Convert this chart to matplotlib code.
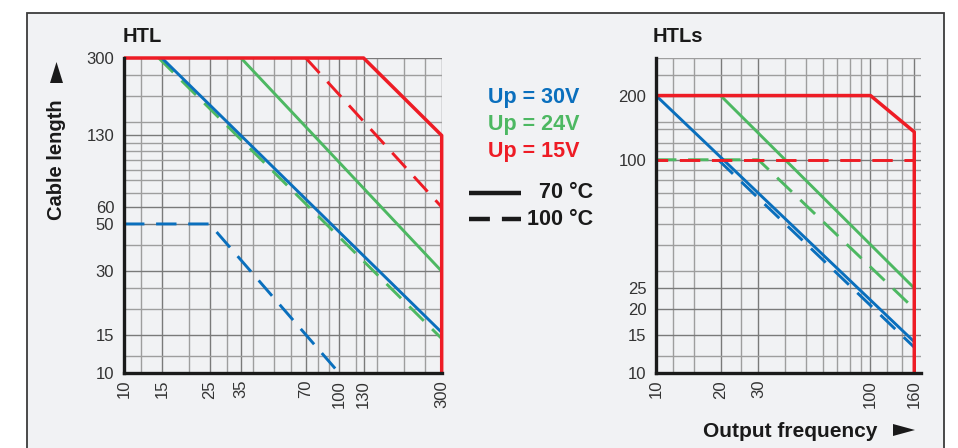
import matplotlib
matplotlib.use('Agg')
import matplotlib.pyplot as plt
from matplotlib.lines import Line2D
from matplotlib.patches import Rectangle, Polygon
from matplotlib.ticker import NullFormatter

plt.rcParams['font.family'] = ['Liberation Sans', 'DejaVu Sans']

BLUE = '#0a6fbd'
GREEN = '#4db862'
RED = '#ee1c25'
DASH = (0, (7, 4))

# === HTL (left) ===
htl_xticks = [10, 15, 25, 35, 70, 100, 130, 300]
htl_yticks = [10, 15, 30, 50, 60, 130, 300]
htl_xgrid = [12, 20, 30, 40, 50, 60, 80, 90, 120, 150, 200, 250]
htl_ygrid = [12, 20, 25, 40, 70, 80, 90, 100, 110, 120, 150, 200, 250]

htl_30_70 = ([15, 300], [300, 15.5])
htl_30_100 = ([10, 25, 100], [50, 50, 10])
htl_24_70 = ([35, 300], [300, 30])
htl_24_100 = ([14.5, 300], [300, 14.5])
htl_15_70 = ([10, 130, 300, 300], [300, 300, 130, 10])
htl_15_100 = ([70, 300], [300, 60])

# === HTLs (right) ===
htls_xticks = [10, 20, 30, 100, 160]
htls_yticks = [10, 15, 20, 25, 100, 200]
htls_xgrid = [12, 15, 25, 40, 50, 60, 70, 80, 90, 120, 140]
htls_ygrid = [12, 30, 40, 50, 60, 70, 80, 90, 110, 120, 140, 150, 250, 300]

htls_30_70 = ([10, 160], [200, 14])
htls_30_100 = ([19.5, 160], [100, 13.2])
htls_24_70 = ([20, 160], [200, 25])
htls_24_100 = ([10, 30, 160], [100, 100, 20])
htls_15_70 = ([10, 100, 160, 160], [200, 200, 135, 10])
htls_15_100 = ([10, 160], [100, 100])

legend_labels = ['Up = 30V', 'Up = 24V', 'Up = 15V']
legend_colors = [BLUE, GREEN, RED]

fig = plt.figure(figsize=(9.58, 4.48), dpi=100)
fig.patch.set_facecolor('white')
fig.add_artist(Rectangle((27 / 958, -0.05), 917 / 958, 1.05 - 13 / 448,
                         transform=fig.transFigure, facecolor='#f1f2f4',
                         edgecolor='#3c3c3c', lw=1.3, zorder=0))


def px(x, y):
    # figure pixel -> figure fraction (y from the top)
    return (x / 958, 1 - y / 448)


def setup(ax, xticks, yticks, xgrid, ygrid, xlim):
    ax.set_xscale('log')
    ax.set_yscale('log')
    ax.set_xlim(*xlim)
    ax.set_ylim(10, 300)
    ax.patch.set_alpha(0)
    ax.set_xticks(xticks)
    ax.set_xticklabels([str(v) for v in xticks], rotation=90)
    ax.set_yticks(yticks)
    ax.set_yticklabels([str(v) for v in yticks])
    ax.set_xticks(xgrid, minor=True)
    ax.set_yticks(ygrid, minor=True)
    ax.xaxis.set_minor_formatter(NullFormatter())
    ax.yaxis.set_minor_formatter(NullFormatter())
    ax.tick_params(which='both', length=0, labelsize=12, labelcolor='#333333')
    ax.tick_params(axis='y', pad=7)
    ax.tick_params(axis='x', pad=5)
    ax.grid(which='major', color='#7a7a7a', lw=1.0)
    ax.grid(which='minor', color='#9e9e9e', lw=1.0)
    ax.set_axisbelow(True)
    for s in ['top', 'right']:
        ax.spines[s].set_visible(False)
    for s in ['left', 'bottom']:
        ax.spines[s].set_linewidth(2.4)
        ax.spines[s].set_color('#1a1a1a')
        ax.spines[s].set_zorder(10)


def curve(ax, data, color, ls='-', lw=2.1, z=3, offset=0):
    style = ls if ls == '-' else (offset, DASH[1])
    ax.plot(data[0], data[1], color=color, lw=lw, linestyle=style,
            zorder=z, clip_on=False, solid_capstyle='butt', dash_capstyle='butt')


ax1 = fig.add_axes([124 / 958, 1 - 373 / 448, 318 / 958, 315 / 448])
setup(ax1, htl_xticks, htl_yticks, htl_xgrid, htl_ygrid, (10, 301))
curve(ax1, htl_24_100, GREEN, '--', z=3)
curve(ax1, htl_24_70, GREEN, z=4)
curve(ax1, htl_30_100, BLUE, '--', z=5)
curve(ax1, htl_30_70, BLUE, z=6)
curve(ax1, htl_15_100, RED, '--', z=7)
curve(ax1, htl_15_70, RED, lw=2.5, z=8)

ax2 = fig.add_axes([656 / 958, 1 - 373 / 448, 265 / 958, 315 / 448])
setup(ax2, htls_xticks, htls_yticks, htls_xgrid, htls_ygrid, (10, 172))
curve(ax2, htls_24_100, GREEN, '--', z=3)
curve(ax2, htls_24_70, GREEN, z=4)
curve(ax2, htls_30_100, BLUE, '--', z=5)
curve(ax2, htls_30_70, BLUE, z=6)
curve(ax2, htls_15_100, RED, '--', z=7, offset=-8)
curve(ax2, htls_15_70, RED, lw=2.5, z=8)

# titles and axis labels
fig.text(*px(123, 37), 'HTL', fontsize=14.5, fontweight='bold',
         color='#1a1a1a', va='center', ha='left')
fig.text(*px(653, 37), 'HTLs', fontsize=14.5, fontweight='bold',
         color='#1a1a1a', va='center', ha='left')
fig.text(*px(56, 160), 'Cable length', fontsize=14.5,
         fontweight='bold', color='#1a1a1a', rotation=90, va='center', ha='center')
fig.add_artist(Polygon([px(50, 83), px(63, 83), px(56.5, 62)], closed=True,
                       transform=fig.transFigure, facecolor='#1a1a1a', edgecolor='none'))
fig.text(*px(877, 431), 'Output frequency', fontsize=15,
         fontweight='bold', color='#1a1a1a', va='center', ha='right')
fig.add_artist(Polygon([px(893, 424), px(893, 436), px(915, 430)], closed=True,
                       transform=fig.transFigure, facecolor='#1a1a1a', edgecolor='none'))

# legend
for i, (lab, col) in enumerate(zip(legend_labels, legend_colors)):
    fig.text(*px(488, 97 + 27.5 * i), lab, fontsize=15.5,
             fontweight='bold', color=col, va='center', ha='left')

fig.add_artist(Line2D([469 / 958, 521 / 958], [1 - 193 / 448] * 2, color='#1a1a1a',
                      lw=3.2, transform=fig.transFigure, solid_capstyle='butt'))
fig.add_artist(Line2D([469 / 958, 521 / 958], [1 - 219 / 448] * 2, color='#1a1a1a',
                      lw=3.2, transform=fig.transFigure, linestyle=(0, (4.7, 2.7)),
                      dash_capstyle='butt'))
fig.text(*px(593, 193), '70 \u00b0C', fontsize=15.5, fontweight='bold',
         color='#1a1a1a', va='center', ha='right')
fig.text(*px(593, 219), '100 \u00b0C', fontsize=15.5, fontweight='bold',
         color='#1a1a1a', va='center', ha='right')

fig.savefig('out.png', dpi=100)
